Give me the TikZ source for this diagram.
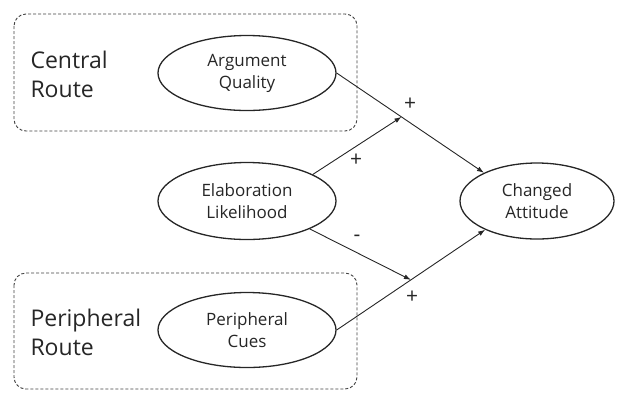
\documentclass[tikz,border=0pt]{standalone}
\usepackage{fontspec}
\setmainfont{Open Sans}
\usetikzlibrary{arrows.meta,shapes.geometric}

\begin{document}
\begin{tikzpicture}[x=1pt, y=-1pt,
    construct/.style={ellipse, draw=black!85, line width=1.3pt, inner sep=0pt,
        minimum width=178pt, minimum height=75pt, align=center,
        text=black!85, font=\fontsize{17}{22}\selectfont},
    route/.style={draw=black!75, densely dashed, rounded corners=12pt, line width=0.9pt},
    routelabel/.style={anchor=west, align=left, text=black!85,
        font=\fontsize{23}{29}\selectfont},
    link/.style={-{Latex[length=7pt,width=5pt]}, draw=black!85, line width=0.9pt},
    sign/.style={text=black!85, font=\fontsize{21}{21}\selectfont}]

        \useasboundingbox (0,0) rectangle (628,392);

        % Central route
        \draw [route] (14,14) rectangle (357,131);
        \node [routelabel] (central) at (27,74) {Central\\Route};
        \node [construct] (aq) at (247,73) {Argument\\Quality};

        % Elaboration
        \node [construct, minimum height=77pt] (el) at (247,201) {Elaboration\\Likelihood};

        % Peripheral route
        \draw [route] (14,273) rectangle (357,389);
        \node [routelabel] (peripheral) at (27,332) {Peripheral\\Route};
        \node [construct] (pc) at (247,330) {Peripheral\\Cues};

        % Outcome
        \node [construct, minimum width=154pt, minimum height=76pt] (ca) at (537,201) {Changed\\Attitude};

        % Paths
        \draw [link] (aq.east) -- coordinate[pos=0.44] (m1) (ca.152);
        \draw [link] (pc.east) -- coordinate[pos=0.5] (m2) (ca.209);
        \draw [link] (el.22) -- (m1);
        \draw [link] (el.-24) -- (m2);

        \node [sign] (s1) at (410,104) {+};
        \node [sign] (s2) at (356,160) {+};
        \node [sign] (s3) at (357,238) {-};
        \node [sign] (s4) at (412,297) {+};

\end{tikzpicture}
\end{document}
